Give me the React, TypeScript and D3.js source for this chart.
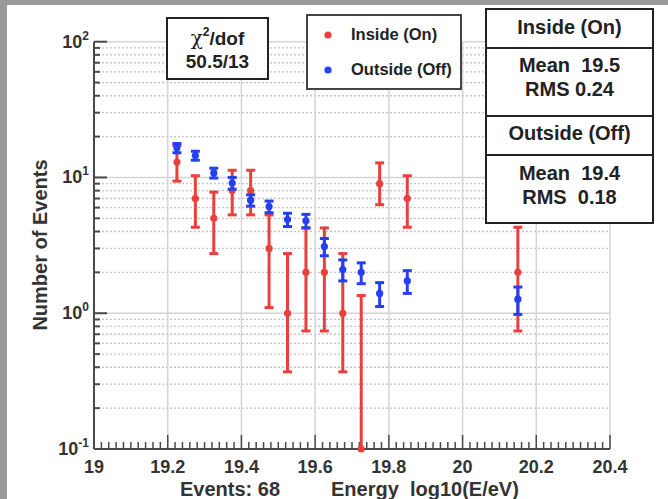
import React from "react";
import * as d3 from "d3";

// energy bin positions, log10(E/eV)
const energyBins = [19.225, 19.275, 19.325, 19.375, 19.425, 19.475, 19.525, 19.575, 19.625, 19.675, 19.725, 19.775, 19.85, 20.15];
// inside (on) counts with their interval bounds
const insideCounts = [13, 7, 5, 8, 8, 3, 1, 2, 2, 1, 0, 9, 7, 2];
const insideLow = [9.4, 4.3, 2.75, 5.3, 5.3, 1.1, 0.37, 0.74, 0.74, 0.37, 0, 6.3, 4.3, 0.74];
const insideHigh = [17.2, 10.3, 7.8, 11.3, 11.3, 5.3, 2.75, 4.25, 4.25, 2.75, 1.35, 12.8, 10.3, 4.3];
// outside (off) scaled counts and errors
const outsideCounts = [16.5, 14.5, 10.8, 9.1, 6.8, 6.1, 4.9, 4.8, 3.1, 2.1, 2.0, 1.4, 1.73, 1.27];
const outsideErr = [1.3, 1.1, 0.9, 0.9, 0.65, 0.6, 0.55, 0.55, 0.45, 0.37, 0.35, 0.28, 0.33, 0.29];

const xTicks = [19, 19.2, 19.4, 19.6, 19.8, 20, 20.2, 20.4];
const yDecades = [0.1, 1, 10, 100];
const yExponents = ["-1", "0", "1", "2"];

const RED = "#e8403d";
const BLUE = "#2440f0";
const FONT = "'Liberation Sans', Arial, sans-serif";

function ErrorPoint({ cx, cy, top, bottom, color, cap, showBottomCap }) {
  return (
    <g stroke={color} fill={color}>
      <line x1={cx} x2={cx} y1={top} y2={bottom} strokeWidth={3} />
      <line x1={cx - cap} x2={cx + cap} y1={top} y2={top} strokeWidth={3} />
      {showBottomCap && <line x1={cx - cap} x2={cx + cap} y1={bottom} y2={bottom} strokeWidth={3} />}
      <circle cx={cx} cy={cy} r={3.6} stroke="none" />
    </g>
  );
}

export default function App() {
  const width = 668;
  const height = 499;
  const margin = { top: 41.7, right: 58, bottom: 50, left: 94 };

  const x = d3.scaleLinear().domain([19, 20.4]).range([margin.left, width - margin.right]);
  const y = d3.scaleLog().domain([0.1, 100]).range([height - margin.bottom, margin.top]);
  const x0 = x(19), x1 = x(20.4);
  const yBottom = y(0.1), yTop = y(100);

  const yMinor = [];
  [0.1, 1, 10].forEach(d => d3.range(2, 10).forEach(k => yMinor.push(d * k)));
  const xMinor = d3.range(0, 71).map(i => 19 + i * 0.02).filter(v => !xTicks.some(t => Math.abs(t - v) < 1e-6));

  const yc = v => y(Math.max(v, 0.1));

  return (
    <svg width={width} height={height} style={{ position: "absolute", left: 0, top: 0 }} fontFamily={FONT}>
      <rect width={width} height={height} fill="#9a9a9a" />
      <rect x={7} y={5} width={width - 7} height={height - 5} fill="#fff" />

      {/* grid */}
      {yMinor.map((v, i) => (
        <line key={"ym" + i} x1={x0} x2={x1} y1={y(v)} y2={y(v)} stroke="#c4c4c4" strokeWidth={1.3} strokeDasharray="2,2" />
      ))}
      {yDecades.slice(1).map((v, i) => (
        <line key={"yg" + i} x1={x0} x2={x1} y1={y(v)} y2={y(v)} stroke="#d4d4d4" strokeWidth={1.5} />
      ))}
      {xTicks.slice(1).map((v, i) => (
        <line key={"xg" + i} x1={x(v)} x2={x(v)} y1={yTop} y2={yBottom} stroke="#d4d4d4" strokeWidth={1.5} />
      ))}

      {/* axes */}
      <line x1={x0} x2={x1} y1={yBottom} y2={yBottom} stroke="#4a4a4a" strokeWidth={2} />
      <line x1={x0} x2={x0} y1={yTop} y2={yBottom} stroke="#4a4a4a" strokeWidth={2} />
      {xMinor.map((v, i) => (
        <line key={"xt" + i} x1={x(v)} x2={x(v)} y1={yBottom} y2={yBottom - 7} stroke="#4a4a4a" strokeWidth={1.5} />
      ))}
      {xTicks.map((v, i) => (
        <g key={"xl" + i}>
          <line x1={x(v)} x2={x(v)} y1={yBottom} y2={yBottom - 14} stroke="#4a4a4a" strokeWidth={1.5} />
          <text x={x(v)} y={yBottom + 24} textAnchor="middle" fontSize={18} fontWeight="bold" fill="#333">{d3.format("")(v)}</text>
        </g>
      ))}
      {yMinor.map((v, i) => (
        <line key={"yt" + i} x1={x0} x2={x0 + 6} y1={y(v)} y2={y(v)} stroke="#4a4a4a" strokeWidth={2} />
      ))}
      {yDecades.map((v, i) => (
        <g key={"yl" + i}>
          <line x1={x0} x2={x0 + 13} y1={y(v)} y2={y(v)} stroke="#4a4a4a" strokeWidth={2} />
          <text x={89} y={y(v) + 6} textAnchor="end" fontSize={18} fontWeight="bold" fill="#333">
            10<tspan dy={-8} fontSize={12}>{yExponents[i]}</tspan>
          </text>
        </g>
      ))}

      {/* axis titles */}
      <text transform={`translate(47,245) rotate(-90)`} textAnchor="middle" fontSize={20} fontWeight="bold" fill="#333">Number of Events</text>
      <text x={180} y={496} fontSize={20} fontWeight="bold" fill="#333">Events: 68</text>
      <text x={331} y={496} fontSize={20} fontWeight="bold" fill="#333" xmlSpace="preserve">{"Energy  log10(E/eV)"}</text>

      {/* data */}
      {energyBins.map((e, i) => (
        <ErrorPoint key={"r" + i} cx={x(e)} cy={yc(insideCounts[i])} top={yc(insideHigh[i])} bottom={yc(insideLow[i])}
          color={RED} cap={4.5} showBottomCap={insideLow[i] > 0.1} />
      ))}
      {energyBins.map((e, i) => (
        <ErrorPoint key={"b" + i} cx={x(e)} cy={yc(outsideCounts[i])} top={yc(outsideCounts[i] + outsideErr[i])}
          bottom={yc(outsideCounts[i] - outsideErr[i])} color={BLUE} cap={4.5} showBottomCap={true} />
      ))}

      {/* chi2 box */}
      <rect x={167} y={18} width={101} height={61} fill="#fff" stroke="#222" strokeWidth={2} />
      <text x={217.5} y={45} textAnchor="middle" fontSize={19} fontWeight="bold" fill="#222">
        <tspan fontFamily="'DejaVu Serif', serif" fontWeight="normal" fontSize={20}>χ</tspan>
        <tspan dy={-9} fontSize={12}>2</tspan>
        <tspan dy={9}>/dof</tspan>
      </text>
      <text x={217.5} y={68} textAnchor="middle" fontSize={19} fontWeight="bold" fill="#222">50.5/13</text>

      {/* legend */}
      <rect x={307} y={15} width={154} height={74} fill="#fff" stroke="#444" strokeWidth={2} />
      <circle cx={328} cy={35} r={3.6} fill={RED} />
      <circle cx={328} cy={70} r={3.6} fill={BLUE} />
      <text x={351} y={40} fontSize={16.5} fontWeight="bold" fill="#222">Inside (On)</text>
      <text x={351} y={75} fontSize={16.5} fontWeight="bold" fill="#222">Outside (Off)</text>

      {/* stats box */}
      <rect x={486} y={9} width={167} height={214} fill="#fff" stroke="#222" strokeWidth={2} />
      {[48, 116, 155].map((d, i) => (
        <line key={"sd" + i} x1={486} x2={653} y1={d} y2={d} stroke="#222" strokeWidth={2} />
      ))}
      <g fontSize={20} fontWeight="bold" fill="#222" textAnchor="middle">
        <text x={569.5} y={34}>Inside (On)</text>
        <text x={569.5} y={72} xmlSpace="preserve">{"Mean  19.5"}</text>
        <text x={569.5} y={96}>RMS 0.24</text>
        <text x={569.5} y={140}>Outside (Off)</text>
        <text x={569.5} y={180} xmlSpace="preserve">{"Mean  19.4"}</text>
        <text x={569.5} y={204} xmlSpace="preserve">{"RMS  0.18"}</text>
      </g>
    </svg>
  );
}
